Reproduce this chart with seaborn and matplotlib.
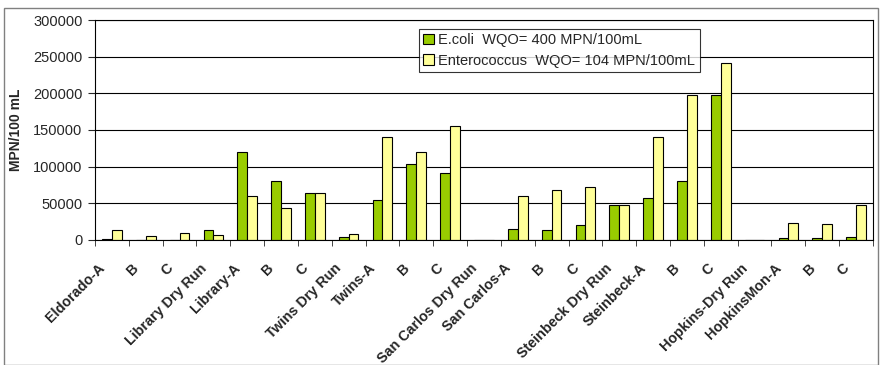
import matplotlib
matplotlib.use("Agg")
import matplotlib.pyplot as plt
import matplotlib.transforms as mtransforms
import numpy as np
import pandas as pd
import seaborn as sns
from matplotlib.patches import Rectangle

sites = [
    "Eldorado-A", "B", "C", "Library Dry Run", "Library-A", "B ", "C ",
    "Twins Dry Run", "Twins-A", "B  ", "C  ", "San Carlos Dry Run",
    "San Carlos-A", "B   ", "C   ", "Steinbeck Dry Run", "Steinbeck-A",
    "B    ", "C    ", "Hopkins-Dry Run", "HopkinsMon-A", "B     ", "C     ",
]
ecoli = [
    2000, 500, 300, 14000, 120000, 81000, 64000,
    4500, 54000, 104000, 91000, 0,
    15500, 13500, 20000, 47500, 57000,
    81000, 198000, 300, 3200, 2300, 3600,
]
entero = [
    13000, 5500, 10000, 6500, 60000, 43000, 64000,
    7700, 141000, 120000, 155000, 0,
    60000, 67500, 72000, 47500, 141000,
    198000, 241000, 300, 23000, 21500, 48000,
]
series = ["E.coli  WQO= 400 MPN/100mL", "Enterococcus  WQO= 104 MPN/100mL"]

df = pd.DataFrame({
    "site": sites * 2,
    "value": ecoli + entero,
    "series": [series[0]] * len(sites) + [series[1]] * len(sites),
})

sns.set_style("white")
plt.rcParams["font.family"] = ["Liberation Sans", "DejaVu Sans"]

fig = plt.figure(figsize=(8.82, 3.65), dpi=100)
ax = fig.add_axes([0.1077, 0.3425, 0.882, 0.6027])

sns.barplot(
    data=df, x="site", y="value", hue="series", order=sites,
    palette=["#99CC00", "#FFFF99"], width=0.58, gap=0,
    edgecolor="black", linewidth=0.8, ax=ax, saturation=1,
)

ax.set_ylim(0, 300000)
ax.set_xlim(-0.5, len(sites) - 0.5)
ax.set_yticks(np.arange(0, 300001, 50000))
ax.yaxis.grid(True, color="black", linewidth=0.8)
ax.set_axisbelow(True)
for s in ax.spines.values():
    s.set_color("black")
    s.set_linewidth(0.8)

ax.set_ylabel("MPN/100 mL", fontsize=10, fontweight="bold")
ax.yaxis.set_label_coords(-0.092, 0.5)
ax.set_xlabel("")
ax.tick_params(axis="y", labelsize=10.5, length=5, direction="out", left=True, pad=4)

ax.set_xticks(np.arange(len(sites)))
ax.set_xticklabels([s.strip() for s in sites], rotation=45, ha="right",
                   rotation_mode="anchor", fontsize=10.3, fontweight="bold")
ax.tick_params(axis="x", which="major", length=0, pad=8)
ax.set_xticks(np.arange(-0.5, len(sites), 1.0), minor=True)
ax.tick_params(axis="x", which="minor", length=4, direction="out", bottom=True)

# shift rotated labels down-left like the original
shift = mtransforms.ScaledTranslation(-0.14, -0.10, fig.dpi_scale_trans)
for lab in ax.get_xticklabels():
    lab.set_transform(lab.get_transform() + shift)

leg = ax.legend(loc="upper left", bbox_to_anchor=(0.416, 0.96), fontsize=10.5,
                frameon=True, fancybox=False, edgecolor="black",
                handlelength=0.75, handleheight=0.75, handletextpad=0.3,
                borderpad=0.3, labelspacing=0.45, borderaxespad=0)
leg.get_frame().set_linewidth(0.8)

fig.patches.append(Rectangle((0.004, 0.0), 0.992, 0.978, transform=fig.transFigure,
                             fill=False, edgecolor="#808080", linewidth=1))

fig.savefig("out.png", dpi=100)
